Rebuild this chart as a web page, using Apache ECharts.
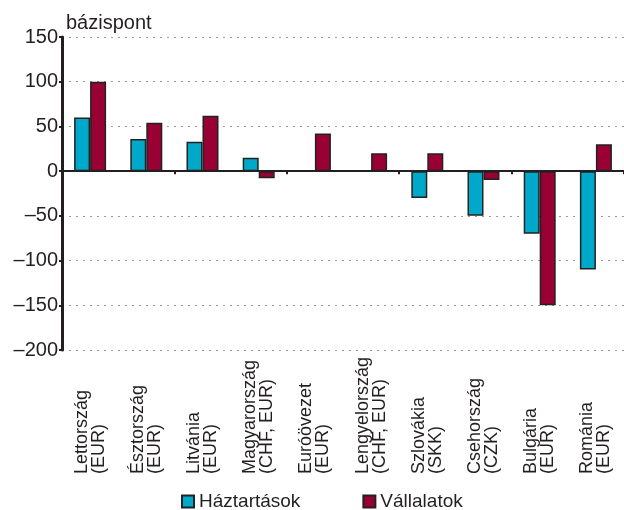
<!DOCTYPE html>
<html>
<head>
<meta charset="utf-8">
<script src="https://cdn.jsdelivr.net/npm/echarts@6/dist/echarts.min.js"></script>
<style>
  html, body { margin: 0; padding: 0; background: #fff; }
  #echart { width: 624px; height: 510px; }
</style>
</head>
<body>
<div id="echart"></div>
<script>
var categories = [
    'Lettország\n(EUR)', 'Észtország\n(EUR)', 'Litvánia\n(EUR)', 'Magyarország\n(CHF, EUR)',
    'Euróövezet\n(EUR)', 'Lengyelország\n(CHF, EUR)', 'Szlovákia\n(SKK)', 'Csehország\n(CZK)',
    'Bulgária\n(EUR)', 'Románia\n(EUR)'
];
var haztartasok = [60, 36, 33, 15, null, null, -30, -50, -70, -110];
var vallalatok = [100, 54, 62, -8, 42, 20, 20, -10, -150, 30];
var yTicks = { min: -200, max: 150, step: 50 };

var font = 'Liberation Sans, Arial, sans-serif';
var ink = '#231f20';

var myChart = echarts.init(document.getElementById('echart'));
var option = {
    animation: false,
    textStyle: { fontFamily: font, color: ink },
    title: {
        text: 'bázispont',
        left: 61,
        top: 8,
        textStyle: { fontFamily: font, fontSize: 20, fontWeight: 'normal', color: ink }
    },
    legend: {
        left: 176,
        top: 487,
        icon: 'rect',
        itemWidth: 12,
        itemHeight: 12,
        itemGap: 62,
        textStyle: { fontFamily: font, fontSize: 19, color: ink },
        data: ['Háztartások', 'Vállalatok']
    },
    grid: {
        left: 62,
        right: 0,
        top: 37,
        bottom: 160,
        outerBoundsMode: 'none'
    },
    xAxis: [
        {
            type: 'category',
            data: categories,
            axisLine: { onZero: true, lineStyle: { color: ink, width: 2 } },
            axisTick: { show: true, length: 3, lineStyle: { color: ink, width: 2 } },
            axisLabel: { show: false },
            splitLine: { show: false }
        },
        {
            type: 'category',
            data: categories,
            position: 'bottom',
            axisLine: { show: false, onZero: false },
            axisTick: { show: false },
            axisLabel: {
                interval: 0,
                rotate: 90,
                align: 'left',
                margin: 124,
                fontFamily: font,
                fontSize: 18,
                lineHeight: 17,
                color: ink
            }
        }
    ],
    yAxis: {
        type: 'value',
        min: yTicks.min,
        max: yTicks.max,
        interval: yTicks.step,
        axisLine: { show: true, lineStyle: { color: ink, width: 3 } },
        axisTick: { show: true, length: 3, lineStyle: { color: ink, width: 2 } },
        axisLabel: {
            margin: 4,
            fontFamily: font,
            fontSize: 20,
            color: ink,
            formatter: function (v) { return String(v).replace('-', '\u2013'); }
        },
        splitLine: { show: true, lineStyle: { color: '#9a9a9a', type: [2, 5], width: 1 } }
    },
    series: [
        {
            name: 'Háztartások',
            type: 'bar',
            xAxisIndex: 0,
            barWidth: 16,
            barGap: 0,
            itemStyle: { color: '#00a8c9', borderColor: '#222', borderWidth: 1.5 },
            data: haztartasok
        },
        {
            name: 'Vállalatok',
            type: 'bar',
            xAxisIndex: 0,
            barWidth: 16,
            barGap: 0,
            itemStyle: { color: '#990033', borderColor: '#222', borderWidth: 1.5 },
            data: vallalatok
        }
    ]
};
myChart.setOption(option);
</script>
</body>
</html>
